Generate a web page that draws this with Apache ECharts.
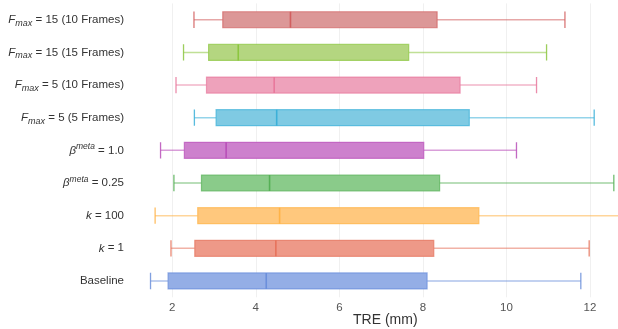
<!DOCTYPE html>
<html>
<head>
<meta charset="utf-8">
<script src="https://cdn.jsdelivr.net/npm/echarts@6/dist/echarts.min.js"></script>
<style>html,body{margin:0;padding:0;background:#fff}#c{width:618px;height:329px}</style>
</head>
<body>
<div id="c"></div>
<script>
// Categories, top to bottom
const categories = [
  '{i|F}{sub|max}{t| = 15 (10 Frames)}',
  '{i|F}{sub|max}{t| = 15 (15 Frames)}',
  '{i|F}{sub|max}{t| = 5 (10 Frames)}',
  '{i|F}{sub|max}{t| = 5 (5 Frames)}',
  '{i|β}{sup|meta}{t| = 1.0}',
  '{i|β}{sup|meta}{t| = 0.25}',
  '{i|k}{t| = 100}',
  '{i|k}{t| = 1}',
  '{t|Baseline}'
];
const lowWhisker = [2.52, 2.27, 2.09, 2.53, 1.72, 2.04, 1.59, 1.97, 1.48];
const q1Values   = [3.21, 2.87, 2.82, 3.05, 2.29, 2.70, 2.61, 2.54, 1.90];
const medians    = [4.83, 3.58, 4.44, 4.50, 3.29, 4.33, 4.57, 4.48, 4.25];
const q3Values   = [8.34, 7.66, 8.89, 9.11, 8.02, 8.40, 9.34, 8.26, 8.10];
const highWhisker= [11.40, 10.96, 10.72, 12.10, 10.24, 12.57, 13.00, 11.98, 11.78];
const xTicks = [2, 4, 6, 8, 10, 12];
const xAxisTitle = 'TRE (mm)';

const strokeColors = ['#d25f5f', '#8cc63f', '#e8789c', '#3cb0d8', '#b94fb9', '#56b056', '#ffb347', '#e6735c', '#6b8fdb'];
const fillColors   = ['#dc9797', '#b4d680', '#eea2bb', '#7fcae3', '#cd80cd', '#8acb8a', '#ffc87d', '#ee9988', '#94aee6'];

const data = categories.map((c, i) => [i, lowWhisker[i], q1Values[i], medians[i], q3Values[i], highWhisker[i]]);

const FF = 'Liberation Sans';
const chart = echarts.init(document.getElementById('c'), null, {renderer: 'canvas'});
chart.setOption({
  animation: false,
  title: {
    text: xAxisTitle, left: 353, top: 313, padding: 0,
    textStyle: {fontSize: 14, fontWeight: 'normal', color: '#333', fontFamily: FF}
  },
  grid: {left: 143, right: 0, top: 3.4, bottom: 31.7, outerBoundsMode: 'none', containLabel: false},
  xAxis: {
    type: 'value', min: 1.3, max: 12.67,
    axisLine: {show: false},
    axisTick: {show: false, customValues: xTicks},
    axisLabel: {fontSize: 11.5, color: '#555', fontFamily: FF, margin: 5,
      customValues: xTicks},
    splitLine: {show: true, lineStyle: {color: '#f0f0f0', width: 1}}
  },
  yAxis: {
    type: 'category', data: categories, inverse: true,
    axisLine: {show: false}, axisTick: {show: false}, splitLine: {show: false},
    axisLabel: {
      margin: 19, fontSize: 11.5, color: '#333', fontFamily: FF, lineHeight: 16,
      rich: {
        t: {fontSize: 11.5, color: '#333', fontFamily: FF, lineHeight: 16},
        i: {fontStyle: 'italic', fontSize: 11.5, color: '#333', fontFamily: FF, lineHeight: 16},
        sub: {fontStyle: 'italic', fontSize: 9, color: '#333', fontFamily: FF, lineHeight: 8, verticalAlign: 'bottom'},
        sup: {fontStyle: 'italic', fontSize: 8.5, color: '#333', fontFamily: FF, lineHeight: 8, verticalAlign: 'top'}
      }
    }
  },
  series: [{
    type: 'custom',
    clip: true,
    data: data,
    encode: {y: 0, x: [1, 2, 3, 4, 5]},
    renderItem: function (params, api) {
      const i = api.value(0);
      const pLow = api.coord([api.value(1), i]);
      const pQ1 = api.coord([api.value(2), i]);
      const pMed = api.coord([api.value(3), i]);
      const pQ3 = api.coord([api.value(4), i]);
      const pHigh = api.coord([api.value(5), i]);
      const band = api.size([0, 1])[1];
      const bh = band * 0.49;
      const ch = band * 0.25;
      const y = pMed[1];
      const sc = strokeColors[i], fc = fillColors[i];
      return {
        type: 'group',
        children: [
          {type: 'line', shape: {x1: pLow[0], y1: y, x2: pQ1[0], y2: y},
            style: {stroke: sc, lineWidth: 1.5, opacity: 0.55}},
          {type: 'line', shape: {x1: pQ3[0], y1: y, x2: pHigh[0], y2: y},
            style: {stroke: sc, lineWidth: 1.5, opacity: 0.55}},
          {type: 'line', shape: {x1: pLow[0], y1: y - ch, x2: pLow[0], y2: y + ch},
            style: {stroke: sc, lineWidth: 1.3, opacity: 0.85}},
          {type: 'line', shape: {x1: pHigh[0], y1: y - ch, x2: pHigh[0], y2: y + ch},
            style: {stroke: sc, lineWidth: 1.3, opacity: 0.85}},
          {type: 'rect', shape: {x: pQ1[0], y: y - bh / 2, width: pQ3[0] - pQ1[0], height: bh},
            style: {fill: fc, stroke: sc, lineWidth: 1.2, strokeOpacity: 0.7}},
          {type: 'line', shape: {x1: pMed[0], y1: y - bh / 2, x2: pMed[0], y2: y + bh / 2},
            style: {stroke: sc, lineWidth: 1.6}}
        ]
      };
    }
  }]
});
</script>
</body>
</html>
